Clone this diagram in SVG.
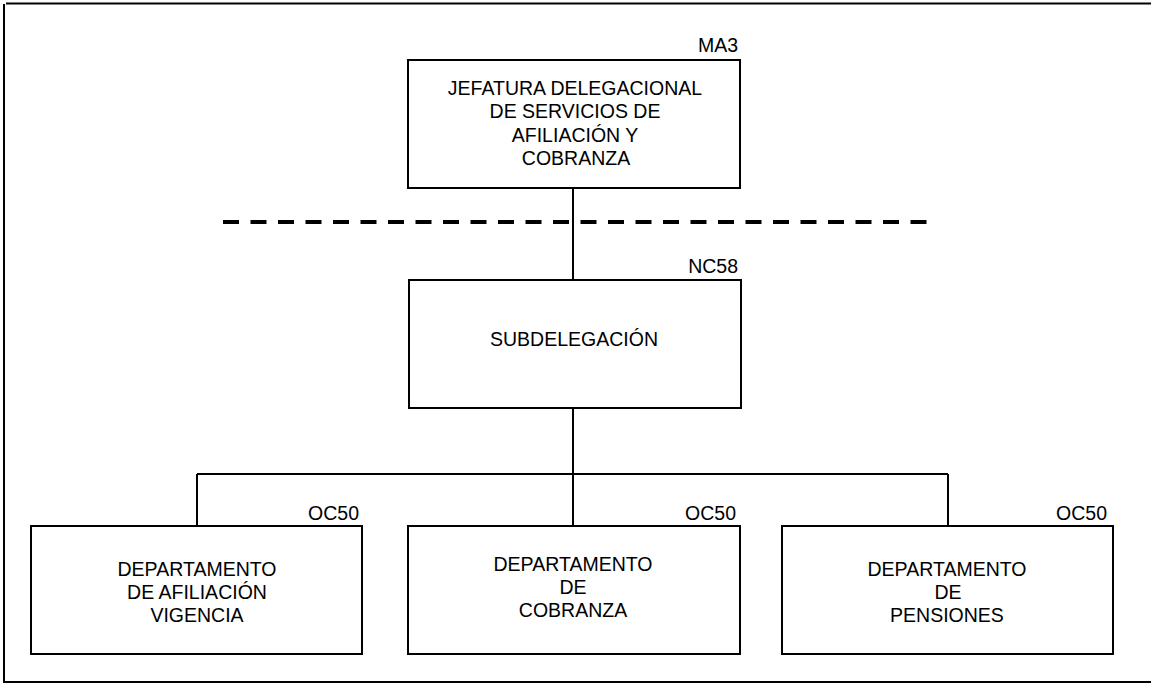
<svg xmlns="http://www.w3.org/2000/svg" width="1151" height="685" viewBox="0 0 1151 685">
<style>
.box{fill:#fff;stroke:#000;stroke-width:2}
.t{font-family:"Liberation Sans",Arial,sans-serif;font-size:19.5px;fill:#000;text-anchor:middle}
.code{font-family:"Liberation Sans",Arial,sans-serif;font-size:19.5px;fill:#000;text-anchor:end}
.ln{stroke:#000;stroke-width:2;fill:none}
</style>
<rect width="1151" height="685" fill="#fff"/>
<g id="frame">
<line class="ln" x1="6" y1="3.5" x2="1151" y2="3.5"/>
<line class="ln" x1="4" y1="4" x2="4" y2="683"/>
<line class="ln" x1="4" y1="682" x2="1151" y2="682"/>
</g>
<g id="connectors">
<line class="ln" x1="573" y1="188" x2="573" y2="280"/>
<line x1="223" y1="222" x2="928" y2="222" stroke="#000" stroke-width="4" stroke-dasharray="16 11.5"/>
<line class="ln" x1="573" y1="408" x2="573" y2="474"/>
<line class="ln" x1="197" y1="474" x2="948" y2="474"/>
<line class="ln" x1="197" y1="474" x2="197" y2="526"/>
<line class="ln" x1="573" y1="474" x2="573" y2="526"/>
<line class="ln" x1="948" y1="474" x2="948" y2="526"/>
</g>
<g id="jefatura">
<rect class="box" x="408" y="60" width="332" height="128"/>
<text class="code" x="738" y="52">MA3</text>
<text class="t" x="575" y="95">JEFATURA DELEGACIONAL</text>
<text class="t" x="575" y="118">DE SERVICIOS DE</text>
<text class="t" x="575" y="142">AFILIACIÓN Y</text>
<text class="t" x="576" y="165">COBRANZA</text>
</g>
<g id="subdelegacion">
<rect class="box" x="409" y="280" width="332" height="128"/>
<text class="code" x="738" y="273">NC58</text>
<text class="t" x="574" y="346">SUBDELEGACIÓN</text>
</g>
<g id="dep-afiliacion">
<rect class="box" x="31" y="526" width="331" height="128"/>
<text class="code" x="359" y="520">OC50</text>
<text class="t" x="197" y="576">DEPARTAMENTO</text>
<text class="t" x="197" y="599">DE AFILIACIÓN</text>
<text class="t" x="197" y="622">VIGENCIA</text>
</g>
<g id="dep-cobranza">
<rect class="box" x="408" y="526" width="332" height="128"/>
<text class="code" x="736" y="520">OC50</text>
<text class="t" x="573" y="571">DEPARTAMENTO</text>
<text class="t" x="573" y="594">DE</text>
<text class="t" x="573" y="617">COBRANZA</text>
</g>
<g id="dep-pensiones">
<rect class="box" x="782" y="526" width="331" height="128"/>
<text class="code" x="1107" y="520">OC50</text>
<text class="t" x="947" y="576">DEPARTAMENTO</text>
<text class="t" x="948" y="599">DE</text>
<text class="t" x="947" y="622">PENSIONES</text>
</g>
</svg>
